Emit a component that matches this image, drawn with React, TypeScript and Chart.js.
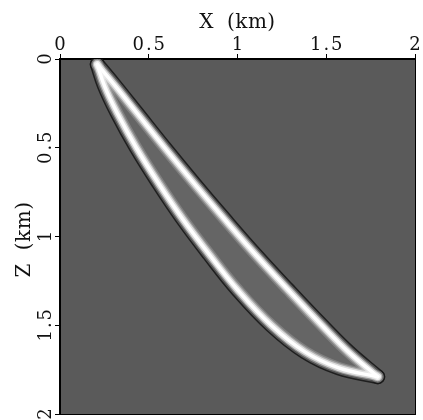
import React, { useEffect, useRef } from 'react';
import { Chart, registerables } from 'chart.js';

Chart.register(...registerables);

// ---- data ----
const xTickValues = [0, 0.5, 1, 1.5, 2];
const xTickLabels = ['0', '0.5', '1', '1.5', '2'];
const zTickValues = [0, 0.5, 1, 1.5, 2];
const zTickLabels = ['0', '0.5', '1', '1.5', '2'];
const xTitle = 'X (km)';
const zTitle = 'Z (km)';

// upper (right) bright event, x / z in km
const upperBandX = [0.21, 0.31, 0.43, 0.59, 0.755, 0.925, 1.1, 1.285, 1.475, 1.625, 1.79];
const upperBandZ = [0.03, 0.15, 0.3, 0.5, 0.7, 0.9, 1.1, 1.3, 1.5, 1.65, 1.79];
// lower (left) bright event
const lowerBandX = [0.21, 0.25, 0.32, 0.43, 0.555, 0.69, 0.84, 1.0, 1.19, 1.38, 1.57, 1.79];
const lowerBandZ = [0.03, 0.15, 0.3, 0.5, 0.7, 0.9, 1.1, 1.3, 1.5, 1.65, 1.74, 1.79];

// ---- styles ----
const BG = '#5a5a5a';
const INNER = '#656565';
const FONT = '"DejaVu Serif", serif';
const haloLayer = { w: 15, c: 'rgba(24,24,24,0.9)' };
const bandLayers = [
  { w: 12, c: 'rgba(170,170,170,0.4)' },
  { w: 9, c: 'rgba(210,210,210,0.5)' },
  { w: 6.5, c: 'rgba(240,240,240,0.75)' },
  { w: 3.5, c: '#ffffff' },
];

const framePlugin = {
  id: 'frame',
  beforeDraw(chart: any) {
    const { ctx, chartArea: a } = chart;
    ctx.save();
    ctx.fillStyle = '#ffffff';
    ctx.fillRect(0, 0, chart.width, chart.height);
    ctx.fillStyle = BG;
    ctx.fillRect(a.left, a.top, a.right - a.left, a.bottom - a.top);
    ctx.restore();
  },
  afterDraw(chart: any) {
    const { ctx, chartArea: a } = chart;
    const xs = chart.scales.x;
    const ys = chart.scales.y;
    const c = ctx as any;
    ctx.save();
    ctx.strokeStyle = '#000';
    ctx.lineWidth = 1;
    ctx.strokeRect(a.left - 0.5, a.top - 0.5, a.right - a.left + 1, a.bottom - a.top + 1);
    ctx.fillStyle = '#111';
    ctx.textAlign = 'center';
    ctx.textBaseline = 'alphabetic';
    ctx.font = `18px ${FONT}`;
    c.letterSpacing = '2px';
    xTickValues.forEach((v, i) => {
      const px = xs.getPixelForValue(v);
      ctx.fillText(xTickLabels[i], px + 1, 50);
    });
    zTickValues.forEach((v, i) => {
      const py = ys.getPixelForValue(v);
      ctx.save();
      ctx.translate(51, py);
      ctx.rotate(-Math.PI / 2);
      ctx.fillText(zTickLabels[i], 1, 0);
      ctx.restore();
    });
    ctx.font = `20px ${FONT}`;
    c.letterSpacing = '0.5px';
    c.wordSpacing = '6px';
    ctx.fillText(xTitle, (a.left + a.right) / 2, 28);
    ctx.save();
    ctx.translate(30, (a.top + a.bottom) / 2 + 3);
    ctx.rotate(-Math.PI / 2);
    ctx.fillText(zTitle, 0, 0);
    ctx.restore();
    ctx.restore();
  },
};

export default function App() {
  const ref = useRef<HTMLCanvasElement>(null);
  useEffect(() => {
    const canvas = ref.current;
    if (!canvas) return;
    const upper = upperBandX.map((x, i) => ({ x, y: upperBandZ[i] }));
    const lower = lowerBandX.map((x, i) => ({ x, y: lowerBandZ[i] }));
    const polygon = [...lower, ...upper.slice(1, -1).reverse()];
    const lineBase = {
      showLine: true,
      pointRadius: 0,
      borderCapStyle: 'round',
      borderJoinStyle: 'round',
      fill: false,
      tension: 0.4,
    };
    const datasets: any[] = [];
    [upper, lower].forEach((pts) => {
      datasets.push({ ...lineBase, data: pts, borderWidth: haloLayer.w, borderColor: haloLayer.c, order: 200 });
    });
    datasets.push({
      data: polygon,
      showLine: true,
      pointRadius: 0,
      borderWidth: 0,
      borderColor: 'rgba(0,0,0,0)',
      backgroundColor: INNER,
      fill: 'shape',
      tension: 0.4,
      order: 100,
    });
    bandLayers.forEach((l, k) => {
      [upper, lower].forEach((pts) => {
        datasets.push({ ...lineBase, data: pts, borderWidth: l.w, borderColor: l.c, order: 50 - k });
      });
    });
    const gridOpts = {
      drawOnChartArea: false,
      drawTicks: true,
      tickLength: 5,
      color: '#000',
      lineWidth: 1,
    };
    const chart = new Chart(canvas, {
      type: 'scatter',
      data: { datasets },
      options: {
        responsive: false,
        animation: false,
        events: [],
        layout: { padding: { left: 0, top: 0, right: 8, bottom: 6 } },
        plugins: { legend: { display: false }, tooltip: { enabled: false } },
        scales: {
          x: {
            type: 'linear',
            position: 'top',
            min: 0,
            max: 2,
            afterBuildTicks: (s: any) => {
              s.ticks = xTickValues.map((v) => ({ value: v }));
            },
            afterFit: (s: any) => {
              s.height = 59;
            },
            ticks: { display: false },
            grid: gridOpts,
            border: { display: true, color: '#000', width: 1 },
          },
          y: {
            type: 'linear',
            reverse: true,
            min: 0,
            max: 2,
            afterBuildTicks: (s: any) => {
              s.ticks = zTickValues.map((v) => ({ value: v }));
            },
            afterFit: (s: any) => {
              s.width = 60;
            },
            ticks: { display: false },
            grid: gridOpts,
            border: { display: true, color: '#000', width: 1 },
          },
        },
      } as any,
      plugins: [framePlugin],
    });
    return () => chart.destroy();
  }, []);
  return (
    <div style={{ position: 'fixed', left: 0, top: 0, width: 423, height: 420, background: '#fff' }}>
      <canvas ref={ref} width={423} height={420} style={{ display: 'block', width: 423, height: 420 }} />
    </div>
  );
}
